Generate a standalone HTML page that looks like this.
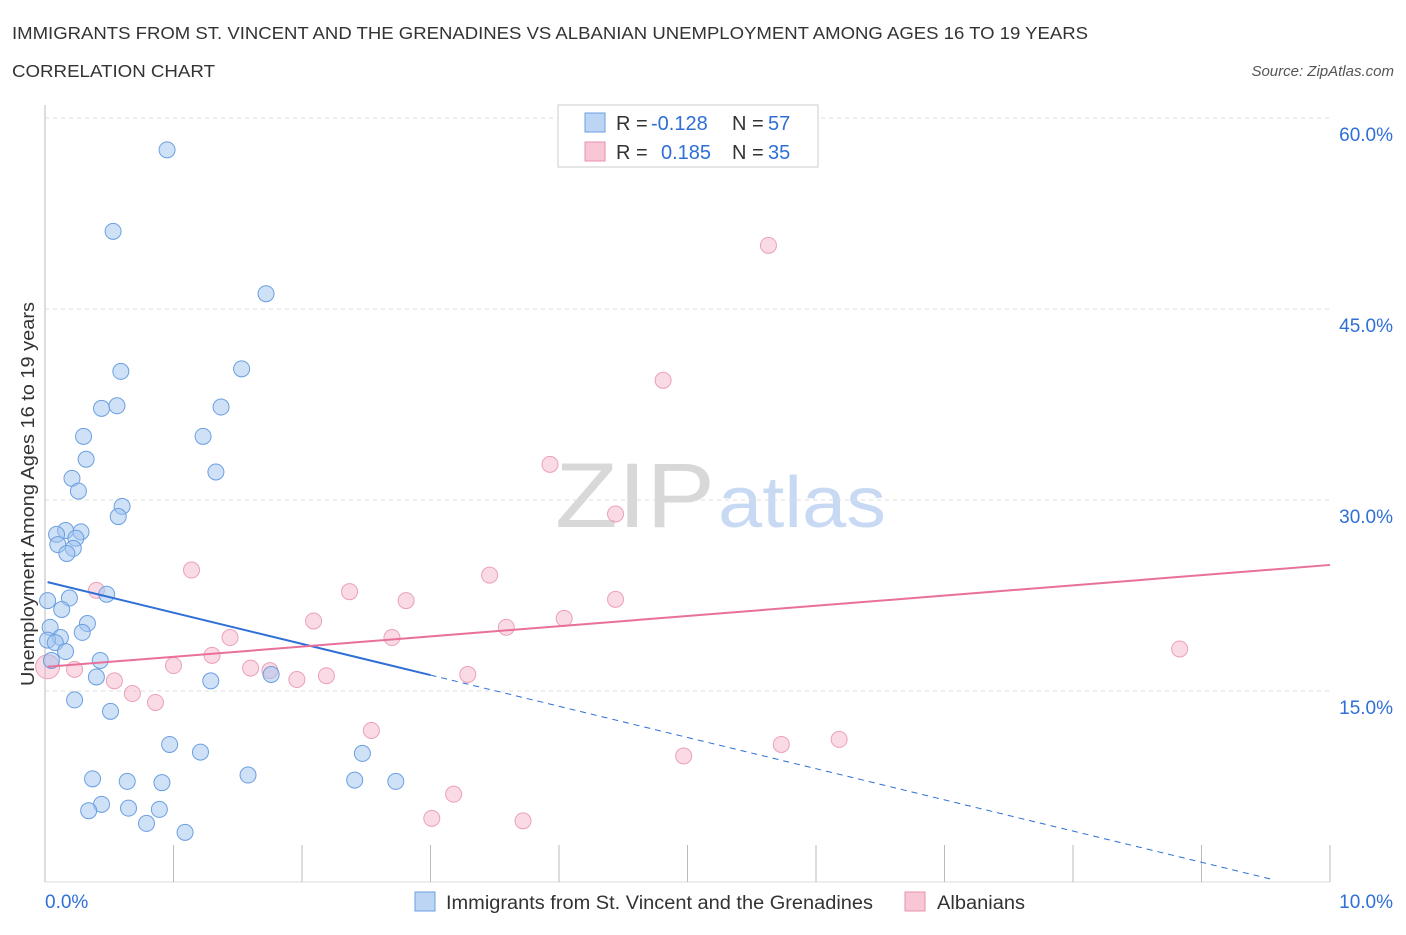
<!DOCTYPE html>
<html><head><meta charset="utf-8"><style>
body{margin:0;background:#fff;font-family:"Liberation Sans",sans-serif}
svg text{font-family:"Liberation Sans",sans-serif}
</style></head><body>
<svg id="chart" width="1406" height="930" viewBox="0 0 1406 930" xmlns="http://www.w3.org/2000/svg">
<text x="12" y="39" font-size="17.5" fill="#333" textLength="1076" lengthAdjust="spacingAndGlyphs">IMMIGRANTS FROM ST. VINCENT AND THE GRENADINES VS ALBANIAN UNEMPLOYMENT AMONG AGES 16 TO 19 YEARS</text>
<text x="12" y="77" font-size="17.5" fill="#333" textLength="203" lengthAdjust="spacingAndGlyphs">CORRELATION CHART</text>
<text x="1394" y="76" font-size="15" font-style="italic" fill="#555" text-anchor="end">Source: ZipAtlas.com</text>
<text x="555" y="527" font-size="92" fill="#d8d8d8" font-family="Liberation Serif" textLength="160" lengthAdjust="spacingAndGlyphs">ZIP</text>
<text x="718" y="527" font-size="72" fill="#c8daf3" textLength="168" lengthAdjust="spacingAndGlyphs">atlas</text>
<text transform="translate(34,494) rotate(-90)" font-size="18" fill="#333" text-anchor="middle" textLength="384" lengthAdjust="spacingAndGlyphs">Unemployment Among Ages 16 to 19 years</text>
<g id="grid"></g><g id="marks"></g>
<g>
<rect x="558" y="105" width="260" height="62" fill="#fff" stroke="#ccc"/>
<rect x="585" y="113" width="20" height="19" fill="#bcd5f5" stroke="#6a9fe0"/>
<rect x="585" y="142" width="20" height="19" fill="#f9c6d6" stroke="#e890aa"/>
<text x="616" y="130" font-size="20" fill="#333">R =</text>
<text x="651" y="130" font-size="20" fill="#2f6fd6">-0.128</text>
<text x="732" y="130" font-size="20" fill="#333">N =</text>
<text x="768" y="130" font-size="20" fill="#2f6fd6">57</text>
<text x="616" y="159" font-size="20" fill="#333">R =</text>
<text x="661" y="159" font-size="20" fill="#2f6fd6">0.185</text>
<text x="732" y="159" font-size="20" fill="#333">N =</text>
<text x="768" y="159" font-size="20" fill="#2f6fd6">35</text>
</g>
<g>
<rect x="415" y="892" width="20" height="19" fill="#bcd5f5" stroke="#6a9fe0"/>
<text x="446" y="909" font-size="19" fill="#333" textLength="427" lengthAdjust="spacingAndGlyphs">Immigrants from St. Vincent and the Grenadines</text>
<rect x="905" y="892" width="20" height="19" fill="#f9c6d6" stroke="#e890aa"/>
<text x="937" y="909" font-size="19" fill="#333" textLength="88" lengthAdjust="spacingAndGlyphs">Albanians</text>
</g>
</svg>
<script>
const xTickLabels=["0.0%","10.0%"];
const yTicks=[15,30,45,60];
const blueX=[0.95,0.53,1.72,0.59,1.53,0.44,0.56,1.37,0.30,1.23,0.32,1.33,0.21,0.26,0.60,0.57,0.16,0.09,0.28,0.24,0.10,0.22,0.17,0.48,0.02,0.19,0.13,0.33,0.04,0.29,0.12,0.02,0.08,0.16,0.05,0.43,0.40,1.29,1.76,0.23,0.51,0.97,1.21,1.58,0.37,0.64,0.91,2.41,2.73,0.44,0.34,0.65,0.89,0.79,1.09,2.47];
const blueY=[57.5,51.1,46.2,40.1,40.3,37.2,37.4,37.3,35.0,35.0,33.2,32.2,31.7,30.7,29.5,28.7,27.6,27.3,27.5,27.0,26.5,26.2,25.8,22.6,22.1,22.3,21.4,20.3,20.0,19.6,19.2,19.0,18.8,18.1,17.4,17.4,16.1,15.8,16.3,14.3,13.4,10.8,10.2,8.4,8.1,7.9,7.8,8.0,7.9,6.1,5.6,5.8,5.7,4.6,3.9,10.1];
const pinkX=[5.63,4.81,3.93,4.44,1.14,0.40,3.46,2.37,2.81,4.44,2.09,4.04,3.59,1.44,2.70,1.30,1.00,1.60,1.75,0.54,1.96,2.19,3.29,0.02,0.23,0.68,0.86,2.54,4.97,5.73,6.18,3.18,3.01,3.72,8.83];
const pinkY=[50.0,39.4,32.8,28.9,24.5,22.9,24.1,22.8,22.1,22.2,20.5,20.7,20.0,19.2,19.2,17.8,17.0,16.8,16.6,15.8,15.9,16.2,16.3,16.9,16.7,14.8,14.1,11.9,9.9,10.8,11.2,6.9,5.0,4.8,18.3];
const blueTrend=[23.6,-0.9];
const pinkTrend=[16.9,24.9];
const blueSolidEnd=3.0;
const X=v=>45+v*128.5, Y=v=>882-v*191/15;
const NS="http://www.w3.org/2000/svg";
const grid=document.getElementById('grid'), marks=document.getElementById('marks');
function mk(tag,attrs,parent){const e=document.createElementNS(NS,tag);for(const k in attrs)e.setAttribute(k,attrs[k]);parent.appendChild(e);return e;}
let ax=mk('line',{x1:45,y1:105,x2:45,y2:882,stroke:'#bbb'},grid);


let bx=mk('line',{x1:45,y1:882,x2:1330,y2:882,stroke:'#ddd'},grid);


yTicks.forEach(t=>{
 let g=mk('line',{x1:45,x2:1330,y1:Y(t),y2:Y(t),stroke:'#ddd','stroke-dasharray':'4,4'},grid);
 
 
 let tx=mk('text',{x:1393,y:Y(t)+23,'font-size':19,fill:'#2f6fd6','text-anchor':'end'},grid);
 tx.textContent=t.toFixed(1)+'%';
 
 
});
for(let i=0;i<=10;i++){
 let t=mk('line',{x1:X(i),x2:X(i),y1:845,y2:882,stroke:'#bbb'},grid);
 
 
}
xTickLabels.forEach((l,i)=>{
 let tx=mk('text',{x:i?1393:45,y:908,'font-size':19,fill:'#2f6fd6','text-anchor':i?'end':'start'},grid);
 tx.textContent=l;
 
 
});
pinkX.forEach((x,i)=>{
 let c=mk('circle',{cx:X(x),cy:Y(pinkY[i]),r:i==23?12:8,fill:'rgba(245,175,198,0.45)',stroke:'#eba0b8','stroke-width':1},marks);
 
 
});
blueX.forEach((x,i)=>{
 let c=mk('circle',{cx:X(x),cy:Y(blueY[i]),r:8,fill:'rgba(160,195,240,0.5)',stroke:'#6a9fe0','stroke-width':1},marks);
 
 
});
const by=x=>blueTrend[0]+(blueTrend[1]-blueTrend[0])*x/10;
let l1=mk('line',{x1:X(0.02),y1:Y(by(0.02)),x2:X(blueSolidEnd),y2:Y(by(blueSolidEnd)),stroke:'#2f6fd6','stroke-width':2},marks);


let l2=mk('line',{x1:X(blueSolidEnd),y1:Y(by(blueSolidEnd)),x2:X(9.57),y2:Y(by(9.57)),stroke:'#2f6fd6','stroke-width':1,'stroke-dasharray':'6,5'},marks);


let l3=mk('line',{x1:X(0.02),y1:Y(pinkTrend[0]),x2:X(10),y2:Y(pinkTrend[1]),stroke:'#e8709a','stroke-width':2},marks);


</script>
</body></html>
